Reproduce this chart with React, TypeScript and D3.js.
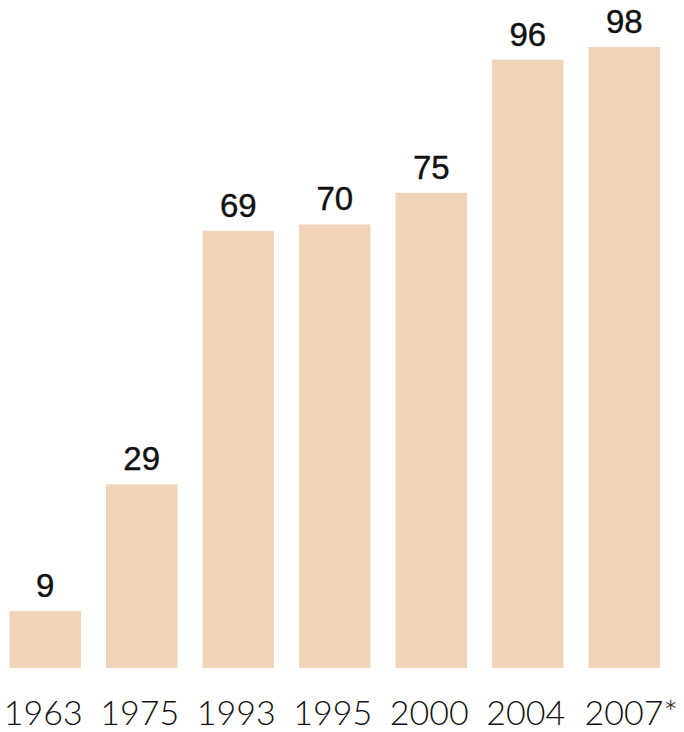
import React from 'react';
import * as d3 from 'd3';

const years = ['1963', '1975', '1993', '1995', '2000', '2004', '2007*'];
const values = [9, 29, 69, 70, 75, 96, 98];

const W = 684;
const H = 732;

export default function App() {
  const x = d3.scaleBand<string>()
    .domain(years)
    .range([9.5, 660])
    .paddingInner(0.26)
    .paddingOuter(0);

  const y = d3.scaleLinear()
    .domain([0, 98])
    .range([668, 47]);

  return (
    <svg width={W} height={H} style={{ position: 'absolute', left: 0, top: 0, background: '#fff' }}>
      <rect x={0} y={0} width={W} height={H} fill="#fff" />
      {years.map((yr, i) => (
        <g key={yr}>
          <rect
            x={x(yr)}
            y={y(values[i])}
            width={x.bandwidth()}
            height={y(0) - y(values[i])}
            fill="#f1d4b7"
          />
          <text
            x={(x(yr) || 0) + x.bandwidth() / 2}
            y={y(values[i]) - 14}
            textAnchor="middle"
            fontFamily="'Liberation Sans', Arial, sans-serif"
            fontSize={33}
            stroke="#111"
            strokeWidth={0.4}
            fill="#111"
          >
            {values[i]}
          </text>
          <text
            x={(x(yr) || 0) + x.bandwidth() / 2 + (yr.endsWith('*') ? 7 : -2)}
            y={725}
            textAnchor="middle"
            fontFamily="Lato, 'DejaVu Sans', sans-serif"
            fontWeight={300}
            fontSize={34}
            fill="#111"
          >
            {yr}
          </text>
        </g>
      ))}
    </svg>
  );
}
